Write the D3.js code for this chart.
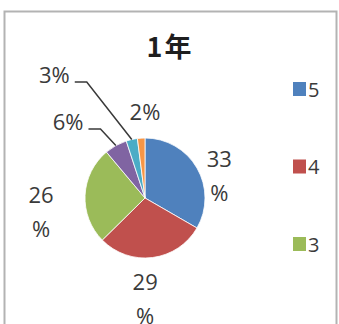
<!DOCTYPE html>
<html>
<head>
<meta charset="utf-8">
<script src="https://cdn.jsdelivr.net/npm/d3@7"></script>
<style>
  html, body { margin: 0; padding: 0; background: #fff; }
  svg { display: block; }
  text { font-family: "Open Sans", "Noto Sans CJK JP", sans-serif; }
</style>
</head>
<body>
<svg id="chart"></svg>
<script>
// data
const title = "1年";
const categories = ["5", "4", "3", "2", "1", "無回答"];
const values = [33, 29, 26, 6, 3, 2];
const colors = ["#4F81BD", "#C0504D", "#9BBB59", "#8064A2", "#4BACC6", "#F79646"];

// label layout (offsets from the outer centroid), split lines, leader lines
const labelNudge = [[5, 9], [-10, 13], [-24, 9], [-38, 2], [-73, -37], [5, 2]];
const labelSplit = [true, true, true, false, false, false];
const hasLeader = [false, false, false, true, true, false];

const w = 339, h = 324;
const cx = 145, cy = 198, r = 60;

const svg = d3.select("#chart").attr("width", w).attr("height", h);

// chart area border
svg.append("rect")
  .attr("x", 4.5).attr("y", 11.5)
  .attr("width", 332).attr("height", 340)
  .attr("fill", "#fff")
  .attr("stroke", "#b3b3b3")
  .attr("stroke-width", 2);

svg.append("text")
  .attr("x", 170).attr("y", 57)
  .attr("text-anchor", "middle")
  .attr("font-size", 27)
  .attr("font-weight", "bold")
  .attr("letter-spacing", 2)
  .attr("fill", "#1e1e1e")
  .style("font-family", "'Noto Sans CJK JP', sans-serif")
  .text(title);

const pie = d3.pie().sort(null).value((d) => d)(values);
const arc = d3.arc().innerRadius(0).outerRadius(r);
const edgeArc = d3.arc().innerRadius(r).outerRadius(r);
const outerArc = d3.arc().innerRadius(80).outerRadius(80);

const g = svg.append("g").attr("transform", `translate(${cx},${cy})`);

g.selectAll("path")
  .data(pie)
  .enter()
  .append("path")
  .attr("d", arc)
  .attr("fill", (d, i) => colors[i])
  .attr("stroke", "#fff")
  .attr("stroke-width", 0.8);

const total = d3.sum(values);
const fs = 22;

pie.forEach((d, i) => {
  const c = outerArc.centroid(d);
  const x = c[0] + labelNudge[i][0];
  const y = c[1] + labelNudge[i][1];
  const pct = Math.round((values[i] / total) * 100);
  const t = g.append("text")
    .attr("text-anchor", "middle")
    .attr("font-size", fs)
    .attr("fill", "#3a3a3a");
  if (labelSplit[i]) {
    t.append("tspan").attr("x", x).attr("y", y).text(pct);
    t.append("tspan").attr("x", x).attr("y", y + 34).text("%");
  } else {
    t.attr("x", x).attr("y", y).text(pct + "%");
  }
  if (hasLeader[i]) {
    const tw = t.node().getComputedTextLength();
    const sx = x + tw / 2 + 5;
    const sy = y - 1;
    const p = edgeArc.centroid(d);
    g.append("polyline")
      .attr("points", [[sx, sy], [sx + 12, sy], p].map((q) => q.join(",")).join(" "))
      .attr("fill", "none")
      .attr("stroke", "#3a3a3a")
      .attr("stroke-width", 1.5);
  }
});

// legend (entries that fall below the visible area are cut, as in the source)
const legendStep = 77.5;
const shown = categories.filter((d, i) => 89 + i * legendStep + 8 < h);
const legend = svg.append("g").attr("transform", "translate(293,89)");
const items = legend.selectAll("g")
  .data(shown)
  .enter()
  .append("g")
  .attr("transform", (d, i) => `translate(0,${i * legendStep})`);

items.append("rect")
  .attr("x", 0).attr("y", -7)
  .attr("width", 13).attr("height", 14)
  .attr("fill", (d, i) => colors[i]);

items.append("text")
  .attr("x", 15).attr("y", 7.5)
  .attr("font-size", 20)
  .attr("fill", "#3a3a3a")
  .text((d) => d);
</script>
</body>
</html>
